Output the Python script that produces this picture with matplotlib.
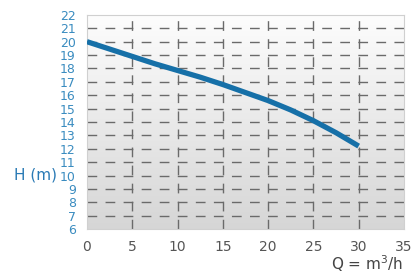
import numpy as np
import matplotlib
matplotlib.use("Agg")
import matplotlib.pyplot as plt
from matplotlib.colors import LinearSegmentedColormap

flow = [0, 2.5, 5, 7.5, 10, 12.5, 15, 17.5, 20, 22.5, 25, 27.5, 30]
head = [20.0, 19.45, 18.9, 18.35, 17.85, 17.35, 16.8, 16.2, 15.6, 14.9, 14.1, 13.2, 12.2]
x_ticks = [0, 5, 10, 15, 20, 25, 30, 35]
y_ticks = list(range(6, 23))

fig = plt.figure(figsize=(4.16, 2.76), dpi=100)
ax = fig.add_axes([0.209, 0.170, 0.762, 0.776])
ax.set_xlim(0, 35)
ax.set_ylim(6, 22)

grad = np.linspace(0.0, 1.0, 256).reshape(-1, 1)
cmap = LinearSegmentedColormap.from_list("g", ["#d6d6d6", "#fdfdfd"])
ax.imshow(grad, aspect="auto", cmap=cmap, extent=[0, 35, 6, 22], origin="lower", zorder=0)

for y in y_ticks[1:-1]:
    ax.axhline(y, color="#6a6a6a", lw=1.0, ls=(0, (7, 6)), zorder=1)
for x in x_ticks[1:-1]:
    ax.axvline(x, color="#6a6a6a", lw=1.0, ls=(0, (7, 6)), zorder=1)

ax.plot(flow, head, color="#1670a8", lw=3.8, solid_capstyle="butt",
        solid_joinstyle="round", zorder=3)

for s in ax.spines.values():
    s.set_color("#d0d0d0")
    s.set_linewidth(0.8)

ax.set_xticks(x_ticks)
ax.set_yticks(y_ticks)
ax.tick_params(length=0)
ax.tick_params(axis="x", colors="#555555", labelsize=10, pad=8)
ax.tick_params(axis="y", colors="#3a8cc0", labelsize=9, pad=8)

fig.text(0.034, 0.365, "H (m)", color="#2a7ab5", fontsize=11, va="center", ha="left")
fig.text(0.97, 0.045, "Q = m$^3$/h", color="#444444", fontsize=11, ha="right", va="center")

fig.savefig("out.png", dpi=100)
